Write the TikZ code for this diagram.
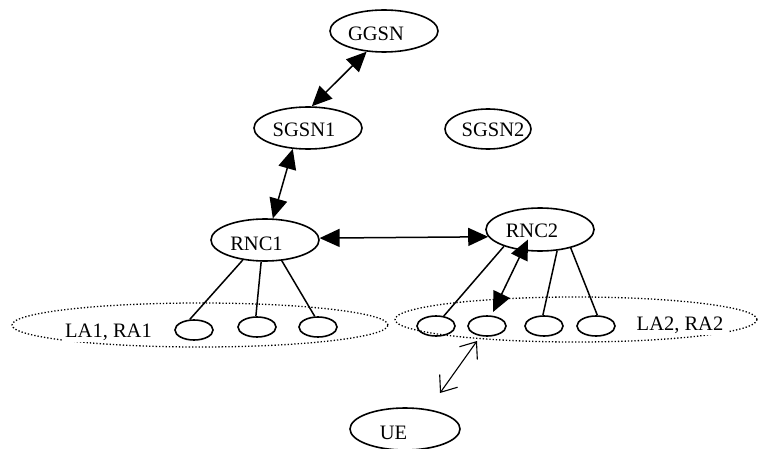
\documentclass[tikz,border=0pt]{standalone}
\usepackage{fontspec}
\setmainfont{Liberation Serif}
\usetikzlibrary{shapes.geometric,arrows.meta,calc}
\begin{document}
\begin{tikzpicture}[x=1pt,y=-1pt,
  ell/.style={draw,ellipse,line width=1.6pt,inner sep=0pt,minimum width=108pt,minimum height=42pt},
  cell/.style={draw,ellipse,line width=1.6pt,inner sep=0pt,minimum width=38pt,minimum height=20pt},
  area/.style={draw,ellipse,dotted,line width=1.3pt,inner sep=0pt},
  txt/.style={font=\fontsize{20.5}{24}\selectfont,inner sep=0pt},
  areatxt/.style={font=\fontsize{20.5}{24}\selectfont,fill=white,inner xsep=3pt,inner ysep=2pt,anchor=base},
  link/.style={line width=1.5pt},
  big/.style={line width=1.5pt,{Triangle[length=20pt,width=18pt]}-{Triangle[length=20pt,width=18pt]}},
  thinarr/.style={line width=1.1pt,{Straight Barb[length=14pt,width=22pt]}-{Straight Barb[length=14pt,width=22pt]}}
]
\useasboundingbox (0,0) rectangle (760,449);

% areas
\node[area,minimum width=376pt,minimum height=44pt] (la1) at (200,325) {};
\node[area,minimum width=362pt,minimum height=45pt] (la2) at (576,319.5) {};
\node[areatxt] (la1t) at (108.5,337) {LA1, RA1};
\node[areatxt,inner xsep=6pt] (la2t) at (680,330) {LA2, RA2};

% core nodes
\node[ell,label={[txt,xshift=-8pt,yshift=-3pt]center:GGSN}] (gg) at (384,31) {};
\node[ell,label={[txt,xshift=-4pt,yshift=-2pt]center:SGSN1}] (sg1) at (308,128) {};
\node[ell,minimum width=86pt,minimum height=40pt,label={[txt,xshift=5pt,yshift=-1pt]center:SGSN2}] (sg2) at (488,129) {};
\node[ell,label={[txt,xshift=-8.5pt,yshift=-3.5pt]center:RNC1}] (rnc1) at (265,240) {};
\node[ell,minimum height=43pt,label={[txt,xshift=-8pt,yshift=-1.5pt]center:RNC2}] (rnc2) at (540,229.5) {};
\node[ell,minimum width=110pt,label={[txt,xshift=-11.5pt,yshift=-4pt]center:UE}] (ue) at (405,429) {};

% cells
\node[cell] (l1) at (194,330) {};
\node[cell] (l2) at (257,327) {};
\node[cell] (l3) at (318,327) {};
\node[cell] (r1) at (436,326) {};
\node[cell] (r2) at (487,326) {};
\node[cell] (r3) at (544,326) {};
\node[cell] (r4) at (596,326) {};

% RNC to cell links
\draw[link] (rnc1.222) -- (l1.112);
\draw[link] (rnc1.260) -- (l2.96);
\draw[link] (rnc1.309) -- (l3.107);
\draw[link] (rnc2.205) -- (r1.52);
\draw[link] (rnc2.309) -- (r3.96);
\draw[link] (rnc2.329) -- (r4.83);

% double arrows
\draw[big] (gg.230) -- (sg1.80);
\draw[big] (sg1.234) -- (rnc1.70);
\draw[big] (rnc1.2) -- (rnc2.188);
\coordinate (rin) at ($(rnc2)+(-12,10)$);
\coordinate (rout) at ($(r2)+(6,-14)$);
\draw[big] (rin) -- (rout);

% UE arrow
\coordinate (uetop) at ($(r2)+(-10,15)$);
\coordinate (uebot) at ($(ue)+(35,-36)$);
\draw[thinarr] (uetop) -- (uebot);
\end{tikzpicture}
\end{document}
